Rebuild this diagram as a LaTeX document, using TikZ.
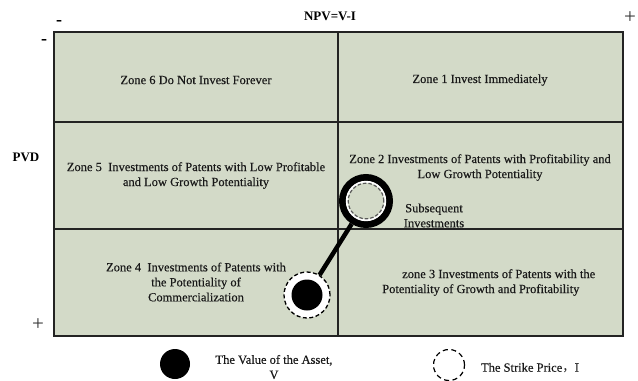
\documentclass[tikz,border=0pt]{standalone}
\usepackage{fontspec}
\setmainfont{Liberation Serif}
\newfontfamily\heavyserif[FakeBold=0.35]{Liberation Serif}
\newfontfamily\cjkfont{Noto Sans CJK SC}
\definecolor{cellfill}{RGB}{211,218,200}
\definecolor{gridline}{RGB}{35,35,35}
\begin{document}
\begin{tikzpicture}[x=1bp,y=-1bp,
  zonetext/.style={font=\heavyserif\fontsize{12.5bp}{15bp}\selectfont, align=center, inner sep=0pt, text=black!90},
  boldtext/.style={font=\fontsize{13bp}{15bp}\selectfont\bfseries, inner sep=0pt},
  minussign/.style={font=\fontsize{18bp}{18bp}\selectfont\bfseries, inner sep=0pt},
  plussign/.style={font=\fontsize{21bp}{21bp}\selectfont, inner sep=0pt, text=black!80},
  gridstroke/.style={draw=gridline, line width=1.6bp},
  dashring/.style={draw=black, dash pattern=on 4bp off 2.5bp, line width=1.3bp}]
\useasboundingbox (0,0) rectangle (638,380);
% quadrant grid
\fill[cellfill] (54,32) rectangle (623,336);
\path[gridstroke] (54,32) rectangle (623,336);
\path[gridstroke] (338,32) -- (338,336) (54,122) -- (623,122) (54,229) -- (623,229);
% axis labels
\node[boldtext] (npv) at (330,16) {NPV=V-I};
\node[boldtext] (pvd) at (26,157) {PVD};
\node[minussign] (topminus) at (59,23) {-};
\node[minussign] (leftminus) at (44,42) {-};
\node[plussign] (topplus) at (630,18) {+};
\node[plussign] (bottomplus) at (38,325) {+};
% zone texts
\node[zonetext] (zone6) at (196,80) {Zone 6 Do Not Invest Forever};
\node[zonetext] (zone1) at (480,80) {Zone 1 Invest Immediately};
\node[zonetext] (zone5) at (196,175.5) {Zone 5\ \ Investments of Patents with Low Profitable\\and Low Growth Potentiality};
\node[zonetext] (zone2) at (480,167.5) {Zone 2 Investments of Patents with Profitability and\\Low Growth Potentiality};
\node[zonetext] (subseq) at (434,215.5) {Subsequent\\Investments};
\node[zonetext] (zone4) at (196,282) {Zone 4\ \ Investments of Patents with\\the Potentiality of\\Commercialization};
\node[zonetext, align=left, anchor=west] (zone3) at (382,282.5) {\hspace*{20bp}zone 3 Investments of Patents with the\\Potentiality of Growth and Profitability};
% option path
\node[circle, draw=black, line width=7bp, minimum size=47bp, inner sep=0pt] (big) at (366,201) {};
\draw[white, line width=2bp] (big.center) circle[radius=19.2bp];
\draw[draw=black!65, dash pattern=on 3.5bp off 2bp, line width=1.2bp] (big.center) circle[radius=17.8bp];
\node[circle, dashring, fill=white, minimum size=46bp, inner sep=0pt] (small) at (307,295) {};
\node[circle, fill=black, minimum size=31bp, inner sep=0pt] (smalldisk) at (small.center) {};
\draw[line width=4.5bp] (small) -- (big);
% legend
\node[circle, fill=black, minimum size=30bp, inner sep=0pt] (valuedisk) at (175,364) {};
\node[zonetext] (valuetext) at (274,367) {The Value of the Asset,\\V};
\node[circle, draw=black, dash pattern=on 5bp off 3.5bp, line width=1.2bp, minimum size=31bp, inner sep=0pt] (strikecircle) at (449,365) {};
\node[zonetext] (striketext) at (530,368) {The Strike Price{\cjkfont ，}I};
\end{tikzpicture}
\end{document}
